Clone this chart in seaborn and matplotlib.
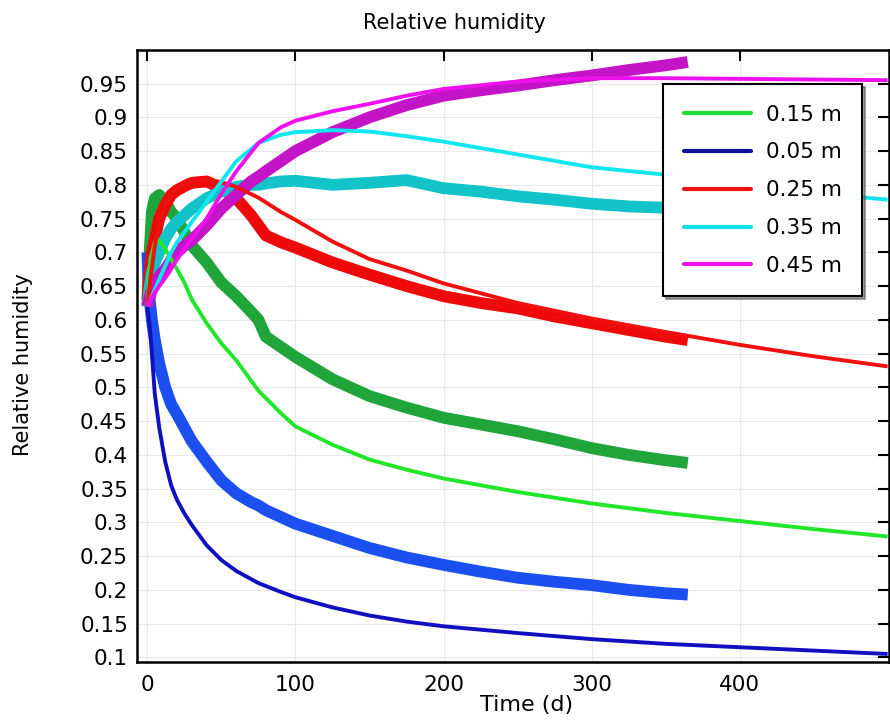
import numpy as np
import pandas as pd
import matplotlib
matplotlib.use("Agg")
import matplotlib.pyplot as plt
from matplotlib.lines import Line2D
import seaborn as sns

# ---------------- data ----------------
t_sim = [0, 2, 5, 8, 12, 16, 20, 25, 30, 40, 50, 60, 75, 90, 100, 125, 150,
         175, 200, 250, 300, 350, 400, 450, 500]
sim_015 = [0.62, 0.69, 0.715, 0.718, 0.705, 0.69, 0.675, 0.655, 0.63, 0.595,
           0.565, 0.54, 0.495, 0.462, 0.442, 0.415, 0.393, 0.378, 0.365, 0.345,
           0.328, 0.314, 0.302, 0.29, 0.279]
sim_005 = [0.62, 0.58, 0.49, 0.44, 0.39, 0.355, 0.333, 0.313, 0.296, 0.266,
           0.244, 0.228, 0.21, 0.197, 0.189, 0.174, 0.162, 0.153, 0.146, 0.136,
           0.127, 0.12, 0.115, 0.11, 0.105]
sim_025 = [0.62, 0.66, 0.71, 0.745, 0.77, 0.785, 0.795, 0.802, 0.806, 0.808,
           0.804, 0.797, 0.781, 0.76, 0.748, 0.716, 0.69, 0.673, 0.654, 0.625,
           0.602, 0.582, 0.563, 0.546, 0.531]
sim_035 = [0.62, 0.63, 0.645, 0.66, 0.68, 0.7, 0.715, 0.73, 0.745, 0.775,
           0.805, 0.835, 0.862, 0.874, 0.878, 0.881, 0.879, 0.872, 0.864, 0.845,
           0.826, 0.815, 0.8, 0.788, 0.778]
sim_045 = [0.62, 0.63, 0.64, 0.65, 0.662, 0.675, 0.69, 0.705, 0.72, 0.75,
           0.787, 0.82, 0.862, 0.885, 0.895, 0.909, 0.92, 0.932, 0.942, 0.953,
           0.958, 0.958, 0.957, 0.956, 0.955]

t_meas = [0, 1, 3, 5, 8, 12, 16, 20, 25, 30, 40, 50, 60, 70, 75, 80, 90, 100,
          125, 150, 175, 200, 225, 250, 275, 300, 325, 350, 365]
meas_015 = [0.62, 0.68, 0.76, 0.78, 0.785, 0.775, 0.76, 0.75, 0.73, 0.71,
            0.685, 0.655, 0.635, 0.612, 0.60, 0.575, 0.56, 0.545, 0.512, 0.487,
            0.47, 0.455, 0.445, 0.435, 0.423, 0.41, 0.40, 0.392, 0.388]
meas_005 = [0.70, 0.64, 0.60, 0.57, 0.535, 0.50, 0.475, 0.46, 0.44, 0.42,
            0.39, 0.362, 0.343, 0.33, 0.325, 0.318, 0.308, 0.298, 0.28, 0.262,
            0.248, 0.237, 0.227, 0.218, 0.212, 0.207, 0.20, 0.195, 0.193]
meas_025 = [0.63, 0.66, 0.70, 0.72, 0.75, 0.77, 0.785, 0.792, 0.798, 0.803,
            0.805, 0.795, 0.78, 0.755, 0.74, 0.725, 0.715, 0.707, 0.685, 0.667,
            0.65, 0.635, 0.625, 0.617, 0.605, 0.595, 0.585, 0.575, 0.57]
meas_035 = [0.62, 0.64, 0.67, 0.685, 0.70, 0.72, 0.735, 0.745, 0.755, 0.765,
            0.78, 0.79, 0.797, 0.80, 0.80, 0.802, 0.805, 0.806, 0.80, 0.803,
            0.807, 0.795, 0.79, 0.783, 0.778, 0.772, 0.768, 0.766, 0.765]
meas_045 = [0.62, 0.63, 0.645, 0.655, 0.665, 0.675, 0.688, 0.70, 0.71, 0.718,
            0.74, 0.765, 0.785, 0.805, 0.812, 0.82, 0.835, 0.85, 0.878, 0.90,
            0.918, 0.932, 0.94, 0.947, 0.955, 0.962, 0.97, 0.977, 0.982]

labels = ["0.15 m", "0.05 m", "0.25 m", "0.35 m", "0.45 m"]
sim_series = [sim_015, sim_005, sim_025, sim_035, sim_045]
meas_series = [meas_015, meas_005, meas_025, meas_035, meas_045]

x_ticks = [0, 100, 200, 300, 400]
y_ticks = [0.1, 0.15, 0.2, 0.25, 0.3, 0.35, 0.4, 0.45, 0.5, 0.55, 0.6, 0.65,
           0.7, 0.75, 0.8, 0.85, 0.9, 0.95]
y_ticklabels = ["0.1", "0.15", "0.2", "0.25", "0.3", "0.35", "0.4", "0.45",
                "0.5", "0.55", "0.6", "0.65", "0.7", "0.75", "0.8", "0.85",
                "0.9", "0.95"]

# ---------------- style ----------------
sns.set_theme(style="white")
plt.rcParams["font.family"] = ["DejaVu Sans"]
plt.rcParams["text.color"] = "black"
plt.rcParams["axes.labelcolor"] = "black"
plt.rcParams["xtick.color"] = "black"
plt.rcParams["ytick.color"] = "black"

sim_colors = ["#22e62a", "#1010c0", "#f01010", "#10e6ee", "#ee10ee"]
meas_colors = ["#1fa53a", "#1c4ff0", "#ee0a0a", "#12c4c8", "#c414c8"]
leg_colors = ["#22dd33", "#10109a", "#ee1111", "#10e0e8", "#ee10ee"]

fig = plt.figure(figsize=(8.9, 7.22), dpi=100)
ax = fig.add_axes([0.154, 0.083, 0.845, 0.848])

for t_vals, series, cols, lw in [(t_meas, meas_series, meas_colors, 8.5),
                                 (t_sim, sim_series, sim_colors, 2.8)]:
    for vals, col in zip(series, cols):
        df = pd.DataFrame({"t": t_vals, "rh": vals})
        sns.lineplot(data=df, x="t", y="rh", ax=ax, color=col, lw=lw,
                     legend=False, estimator=None, sort=False,
                     solid_capstyle="butt", solid_joinstyle="round")

ax.set_xlim(-7, 501)
ax.set_ylim(0.093, 1.0)
ax.set_xticks(x_ticks)
ax.set_yticks(y_ticks)
ax.set_yticklabels(y_ticklabels)
ax.grid(True, color="#e8e8e8", lw=0.8)
ax.tick_params(direction="in", length=8, width=1.5, top=True, right=True,
               labelsize=15.5, colors="black")
ax.tick_params(axis="x", pad=9)
ax.tick_params(axis="y", pad=6.5)
for s in ax.spines.values():
    s.set_color("black")
    s.set_linewidth(1.8)

ax.set_xlabel("")
ax.set_ylabel("")
fig.text(0.592, 0.023, "Time (d)", fontsize=16, ha="center", va="center",
         color="black")
fig.text(0.026, 0.495, "Relative humidity", rotation=90, fontsize=15,
         ha="center", va="center", color="black")
fig.text(0.511, 0.968, "Relative humidity", fontsize=15, ha="center",
         va="center", color="black")

handles = [Line2D([0], [0], color=c, lw=3) for c in leg_colors]
leg = ax.legend(handles, labels, loc="upper right",
                bbox_to_anchor=(0.964, 0.944), fontsize=15.5, frameon=True,
                fancybox=False, shadow=True, edgecolor="black",
                handlelength=3.1, labelspacing=0.83, borderpad=0.95,
                handletextpad=0.7, borderaxespad=0)
leg.get_frame().set_linewidth(1.5)
leg.get_frame().set_alpha(1)

fig.savefig("out.png", dpi=100)
